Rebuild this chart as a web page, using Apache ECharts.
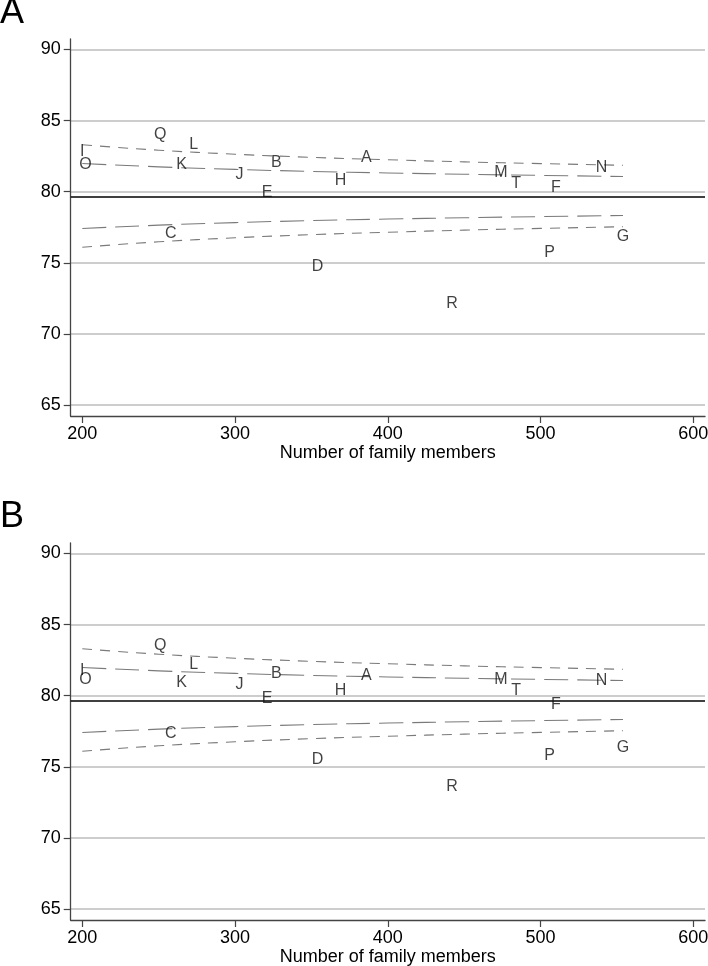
<!DOCTYPE html>
<html>
<head>
<meta charset="utf-8">
<script src="https://cdn.jsdelivr.net/npm/echarts@6/dist/echarts.min.js"></script>
<style>
  html, body { margin: 0; padding: 0; background: #fff; }
  #chart { width: 708px; height: 966px; }
</style>
</head>
<body>
<div id="chart"></div>
<script>
// letters (units) and their number of family members
const labels = ['A','B','C','D','E','F','G','H','I','J','K','L','M','N','O','P','Q','R','T'];
const members = [386, 327, 258, 354, 321, 510, 554, 369, 200, 303, 265, 273, 474, 540, 202, 506, 251, 442, 484];
// panel A / panel B values
const valuesA = [82.41, 82.06, 77.07, 74.77, 79.92, 80.27, 76.83, 80.75, 82.83, 81.24, 81.89, 83.28, 81.33, 81.68, 81.89, 75.70, 84.03, 72.14, 80.58];
const valuesB = [81.39, 81.56, 77.34, 75.53, 79.80, 79.40, 76.33, 80.39, 81.79, 80.79, 80.90, 82.19, 81.14, 81.09, 81.14, 75.77, 83.50, 73.59, 80.39];

// funnel limits (same in both panels)
const limitX = [200, 250, 300, 350, 400, 450, 500, 554];
const upper998 = [83.30, 82.92, 82.64, 82.42, 82.25, 82.10, 81.98, 81.86];
const upper95 = [81.99, 81.75, 81.57, 81.43, 81.32, 81.23, 81.15, 81.07];
const lower95 = [77.41, 77.65, 77.83, 77.97, 78.08, 78.17, 78.25, 78.33];
const lower998 = [76.10, 76.48, 76.76, 76.98, 77.15, 77.30, 77.42, 77.54];
const meanValue = 79.67;

const xTicks = [200, 600, 100];   // min, max, step
const yTicks = [65, 90, 5];
const panelNames = ['A', 'B'];

// layout
const FONT = "'Liberation Sans', Arial, sans-serif";
const xMin = 192.4, xMax = 607.7, yMin = 64.23, yMax = 90.74;
const gLeft = 70.7, gRight = 3, gHeight = 377;
const panelTop = [39, 543];
const kx = (708 - gRight - gLeft) / (xMax - xMin);
const ky = gHeight / (yMax - yMin);

let grid = [], xAxis = [], yAxis = [], series = [];

function hiddenAxis(idx) {
    return { gridIndex: idx, type: 'value', min: 0, max: 1, show: false };
}

function addPanel(p, values) {
    let top = panelTop[p];
    let g0 = grid.length;
    // data grid: axis lines only
    grid.push({ left: gLeft, right: gRight, top: top, height: gHeight, outerBoundsMode: 'none' });
    xAxis.push({
        gridIndex: g0, type: 'value', min: xMin, max: xMax,
        axisLine: { show: true, lineStyle: { color: '#444', width: 1.3 } },
        axisTick: { show: false }, axisLabel: { show: false }, splitLine: { show: false }
    });
    yAxis.push({
        gridIndex: g0, type: 'value', min: yMin, max: yMax,
        axisLine: { show: true, lineStyle: { color: '#444', width: 1.3 } },
        axisTick: { show: false }, axisLabel: { show: false }, splitLine: { show: false }
    });
    // y ticks + gridlines
    grid.push({ left: gLeft, right: gRight, top: top + (yMax - yTicks[1]) * ky,
        height: (yTicks[1] - yTicks[0]) * ky, outerBoundsMode: 'none' });
    xAxis.push(hiddenAxis(g0 + 1));
    yAxis.push({
        gridIndex: g0 + 1, type: 'value', min: yTicks[0], max: yTicks[1], interval: yTicks[2],
        axisLine: { show: false },
        axisTick: { show: true, length: 7, lineStyle: { color: '#444', width: 1.2 } },
        axisLabel: { fontSize: 18, color: '#000', fontFamily: FONT, margin: 10 },
        splitLine: { show: true, lineStyle: { color: '#bdbdbd', width: 1.5 } }
    });
    // x ticks + name
    grid.push({ left: gLeft + (xTicks[0] - xMin) * kx, width: (xTicks[1] - xTicks[0]) * kx,
        top: top, height: gHeight, outerBoundsMode: 'none' });
    xAxis.push({
        gridIndex: g0 + 2, type: 'value', min: xTicks[0], max: xTicks[1], interval: xTicks[2],
        name: 'Number of family members', nameLocation: 'middle', nameGap: 27,
        nameTextStyle: { fontSize: 18, color: '#000', fontFamily: FONT },
        axisLine: { show: false },
        axisTick: { show: true, length: 7, lineStyle: { color: '#444', width: 1.2 } },
        axisLabel: { fontSize: 18, color: '#000', fontFamily: FONT, margin: 9 },
        splitLine: { show: false }
    });
    yAxis.push(hiddenAxis(g0 + 2));

    // funnel limits
    let lims = [
        [upper998, [10, 8]],
        [upper95, [24, 9]],
        [lower95, [24, 9]],
        [lower998, [10, 8]]
    ];
    lims.forEach((l, i) => {
        let s = {
            type: 'line', xAxisIndex: g0, yAxisIndex: g0,
            data: limitX.map((x, j) => [x, l[0][j]]),
            symbol: 'none', smooth: true, silent: true,
            lineStyle: { color: '#7a7a7a', width: 1.1, type: l[1] }
        };
        if (i == 0) {
            s.markLine = {
                silent: true, symbol: 'none', label: { show: false },
                lineStyle: { color: '#000', width: 1.6, type: 'solid' },
                data: [{ yAxis: meanValue }]
            };
        }
        series.push(s);
    });

    // letters
    series.push({
        type: 'scatter', xAxisIndex: g0, yAxisIndex: g0,
        data: labels.map((n, i) => ({ name: n, value: [members[i], values[i]] })),
        symbolSize: 1, itemStyle: { color: 'rgba(0,0,0,0)' }, silent: true, z: 5,
        label: { show: true, position: 'inside', formatter: '{b}', fontSize: 16,
            color: '#111', fontFamily: FONT }
    });
}

addPanel(0, valuesA);
addPanel(1, valuesB);

let chart = echarts.init(document.getElementById('chart'));
chart.setOption({
    animation: false,
    title: panelNames.map((t, i) => ({
        text: t, left: 0, top: i == 0 ? -5 : 499, padding: 0,
        textStyle: { fontSize: 36, fontWeight: 'normal', color: '#000', fontFamily: FONT }
    })),
    grid: grid,
    xAxis: xAxis,
    yAxis: yAxis,
    series: series
});
</script>
</body>
</html>
